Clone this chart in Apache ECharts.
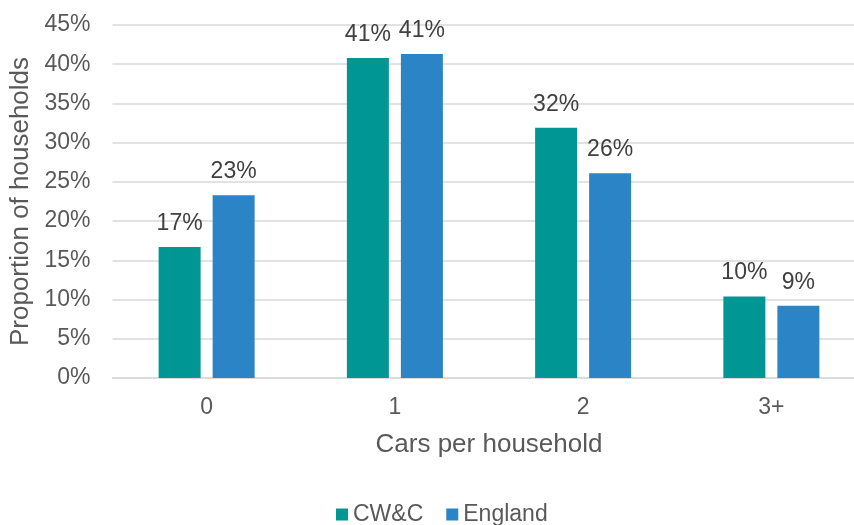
<!DOCTYPE html>
<html><head><meta charset="utf-8">
<script src="https://cdn.jsdelivr.net/npm/echarts@6/dist/echarts.min.js"></script>
<style>html,body{margin:0;padding:0;background:#fff}#c{width:854px;height:525px;overflow:hidden}</style>
</head><body><div id="c"></div>
<script>
const categories = ['0', '1', '2', '3+'];
const cwcValues = [16.7, 40.8, 31.9, 10.4];
const englandValues = [23.3, 41.3, 26.1, 9.2];
const seriesNames = ['CW&C', 'England'];
const yTicks = [0, 5, 10, 15, 20, 25, 30, 35, 40, 45];

const chart = echarts.init(document.getElementById('c'));
const font = '"Liberation Sans", Arial, sans-serif';
const labelCfg = {
  show: true, position: 'top', distance: 12,
  fontFamily: font, fontSize: 23, color: '#404040',
  formatter: p => Math.round(p.value) + '%'
};
chart.setOption({
  animation: false,
  textStyle: { fontFamily: font },
  grid: { left: 112.5, width: 753, top: 25, bottom: 147, outerBoundsMode: 'none', containLabel: false },
  legend: {
    bottom: -6, left: 331, itemWidth: 12, itemHeight: 12, itemGap: 23,
    icon: 'rect',
    textStyle: { fontFamily: font, fontSize: 23, color: '#595959', padding: 0 },
    data: seriesNames
  },
  xAxis: {
    type: 'category', data: categories,
    axisLine: { show: true, lineStyle: { color: '#d9d9d9', width: 1.5 } },
    axisTick: { show: false },
    axisLabel: { fontFamily: font, fontSize: 23, color: '#595959', margin: 18 },
    name: 'Cars per household', nameLocation: 'middle', nameGap: 54,
    nameTextStyle: { fontFamily: font, fontSize: 26, color: '#595959' }
  },
  yAxis: {
    type: 'value', min: yTicks[0], max: yTicks[yTicks.length - 1], interval: 5,
    axisLine: { show: false }, axisTick: { show: false },
    splitLine: { lineStyle: { color: '#d9d9d9', width: 1.5 } },
    axisLabel: { fontFamily: font, fontSize: 23, color: '#595959', margin: 22, formatter: v => v + '%' },
    name: 'Proportion of households', nameLocation: 'middle', nameGap: 79,
    nameTextStyle: { fontFamily: font, fontSize: 26, color: '#595959' }
  },
  series: [
    { name: seriesNames[0], type: 'bar', data: cwcValues, barWidth: 42, barGap: '28.6%',
      itemStyle: { color: '#009694' }, label: labelCfg },
    { name: seriesNames[1], type: 'bar', data: englandValues, barWidth: 42,
      itemStyle: { color: '#2A84C6' }, label: labelCfg }
  ]
});
</script></body></html>
